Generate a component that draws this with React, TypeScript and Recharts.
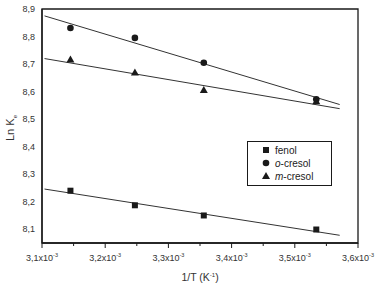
import React from "react";
import {
  ScatterChart,
  Scatter,
  XAxis,
  YAxis,
  ReferenceLine,
  ReferenceArea,
} from "recharts";

// 1/T values (x 10^-3 K^-1)
const invT = [3.145, 3.247, 3.356, 3.534];

const fenol = [8.24, 8.187, 8.15, 8.099];
const oCresol = [8.831, 8.795, 8.705, 8.572];
const mCresol = [8.717, 8.669, 8.606, 8.565];

// fitted lines, endpoints
const fitX = [3.104, 3.571];
const fitFenol = [8.246, 8.078];
const fitOCresol = [8.875, 8.553];
const fitMCresol = [8.72, 8.538];

const xTicks = [3.1, 3.15, 3.2, 3.25, 3.3, 3.35, 3.4, 3.45, 3.5, 3.55, 3.6];
const yTicks = [8.1, 8.2, 8.3, 8.4, 8.5, 8.6, 8.7, 8.8, 8.9];

const toPoints = (ys: number[]) => invT.map((x, i) => ({ x, y: ys[i] }));
const toSegment = (ys: number[]) =>
  fitX.map((x, i) => ({ x, y: ys[i] })) as any;

const FONT = "'Liberation Sans', Arial, sans-serif";
const INK = "#1a1a1a";

const comma = (v: number) => v.toFixed(1).replace(".", ",");

const mark = (kind: string, cx: number, cy: number) => {
  if (kind === "square") return <rect x={cx - 3} y={cy - 3} width={6} height={6} fill={INK} />;
  if (kind === "circle") return <circle cx={cx} cy={cy} r={3.3} fill={INK} />;
  return <polygon points={`${cx},${cy - 4} ${cx + 4},${cy + 3} ${cx - 4},${cy + 3}`} fill={INK} />;
};

// @ts-ignore
const squareShape = (p) => mark("square", p.cx, p.cy);
// @ts-ignore
const circleShape = (p) => mark("circle", p.cx, p.cy);
// @ts-ignore
const triangleShape = (p) => mark("triangle", p.cx, p.cy);

// @ts-ignore
const XTick = (props) => {
  const { x, y, payload } = props;
  const v = payload.value;
  const major = Math.abs(v * 10 - Math.round(v * 10)) < 1e-6;
  return (
    <g>
      <line x1={x} x2={x} y1={y} y2={y + (major ? 5 : 3)} stroke={INK} strokeWidth={1} />
      {major && (
        <text x={x} y={y + 18} textAnchor="middle" fontSize={9} fill="#333" fontFamily={FONT}>
          {comma(v)}x10
          <tspan dy={-4} fontSize={5.5}>-3</tspan>
        </text>
      )}
    </g>
  );
};

const legendItems = [
  { shape: "square", it: "", rest: "fenol" },
  { shape: "circle", it: "o", rest: "-cresol" },
  { shape: "triangle", it: "m", rest: "-cresol" },
];

const LegendBox = () => (
  <svg width={85} height={45} style={{ position: "absolute", left: 247, top: 141 }}>
    <rect x={0.5} y={0.5} width={84} height={44} fill="#fff" stroke={INK} strokeWidth={1} />
    {legendItems.map((it, i) => {
      const cy = 9 + i * 13;
      return (
        <g key={i}>
          {mark(it.shape, 19, cy)}
          <text x={28} y={cy + 3.5} fontSize={10} fill="#222" fontFamily={FONT}>
            {it.it && <tspan fontStyle="italic">{it.it}</tspan>}
            {it.rest}
          </text>
        </g>
      );
    })}
  </svg>
);

export default function App() {
  return (
    <div style={{ position: "absolute", left: 0, top: 0, width: 383, height: 286, background: "#fff" }}>
      <ScatterChart width={383} height={286} margin={{ top: 9, right: 25, bottom: 0, left: 0 }}>
        <XAxis
          type="number"
          dataKey="x"
          domain={[3.1, 3.6]}
          ticks={xTicks}
          interval={0}
          height={43}
          tickSize={0}
          tickMargin={0}
          tickLine={false}
          tick={<XTick />}
          axisLine={{ stroke: INK, strokeWidth: 1.3 }}
          allowDataOverflow
        />
        <YAxis
          type="number"
          dataKey="y"
          domain={[8.05, 8.9]}
          ticks={yTicks}
          interval={0}
          width={42}
          tickSize={4}
          tickMargin={3}
          tickLine={false}
          tickFormatter={comma}
          tick={{ fontSize: 9, fill: "#333", fontFamily: FONT }}
          axisLine={{ stroke: INK, strokeWidth: 1.3 }}
          allowDataOverflow
        />
        <ReferenceArea
          x1={3.1}
          x2={3.6}
          y1={8.05}
          y2={8.9}
          fill="none"
          stroke={INK}
          strokeWidth={1.3}
          ifOverflow="visible"
        />
        <ReferenceLine segment={toSegment(fitFenol)} stroke="#333" strokeWidth={1} ifOverflow="visible" />
        <ReferenceLine segment={toSegment(fitOCresol)} stroke="#333" strokeWidth={1} ifOverflow="visible" />
        <ReferenceLine segment={toSegment(fitMCresol)} stroke="#333" strokeWidth={1} ifOverflow="visible" />
        <Scatter name="fenol" data={toPoints(fenol)} shape={squareShape} fill={INK} isAnimationActive={false} />
        <Scatter name="o-cresol" data={toPoints(oCresol)} shape={circleShape} fill={INK} isAnimationActive={false} />
        <Scatter name="m-cresol" data={toPoints(mCresol)} shape={triangleShape} fill={INK} isAnimationActive={false} />
        <text
          x={14}
          y={128}
          transform="rotate(-90 14 128)"
          textAnchor="middle"
          fontSize={11}
          fill="#333"
          fontFamily={FONT}
        >
          Ln K<tspan fontSize={6} dy={3}>e</tspan>
        </text>
        <text x={200} y={281} textAnchor="middle" fontSize={10.5} fill="#333" fontFamily={FONT}>
          1/T (K<tspan fontSize={6} dy={-4}>-1</tspan>
          <tspan dy={4}>)</tspan>
        </text>
      </ScatterChart>
      <LegendBox />
    </div>
  );
}
